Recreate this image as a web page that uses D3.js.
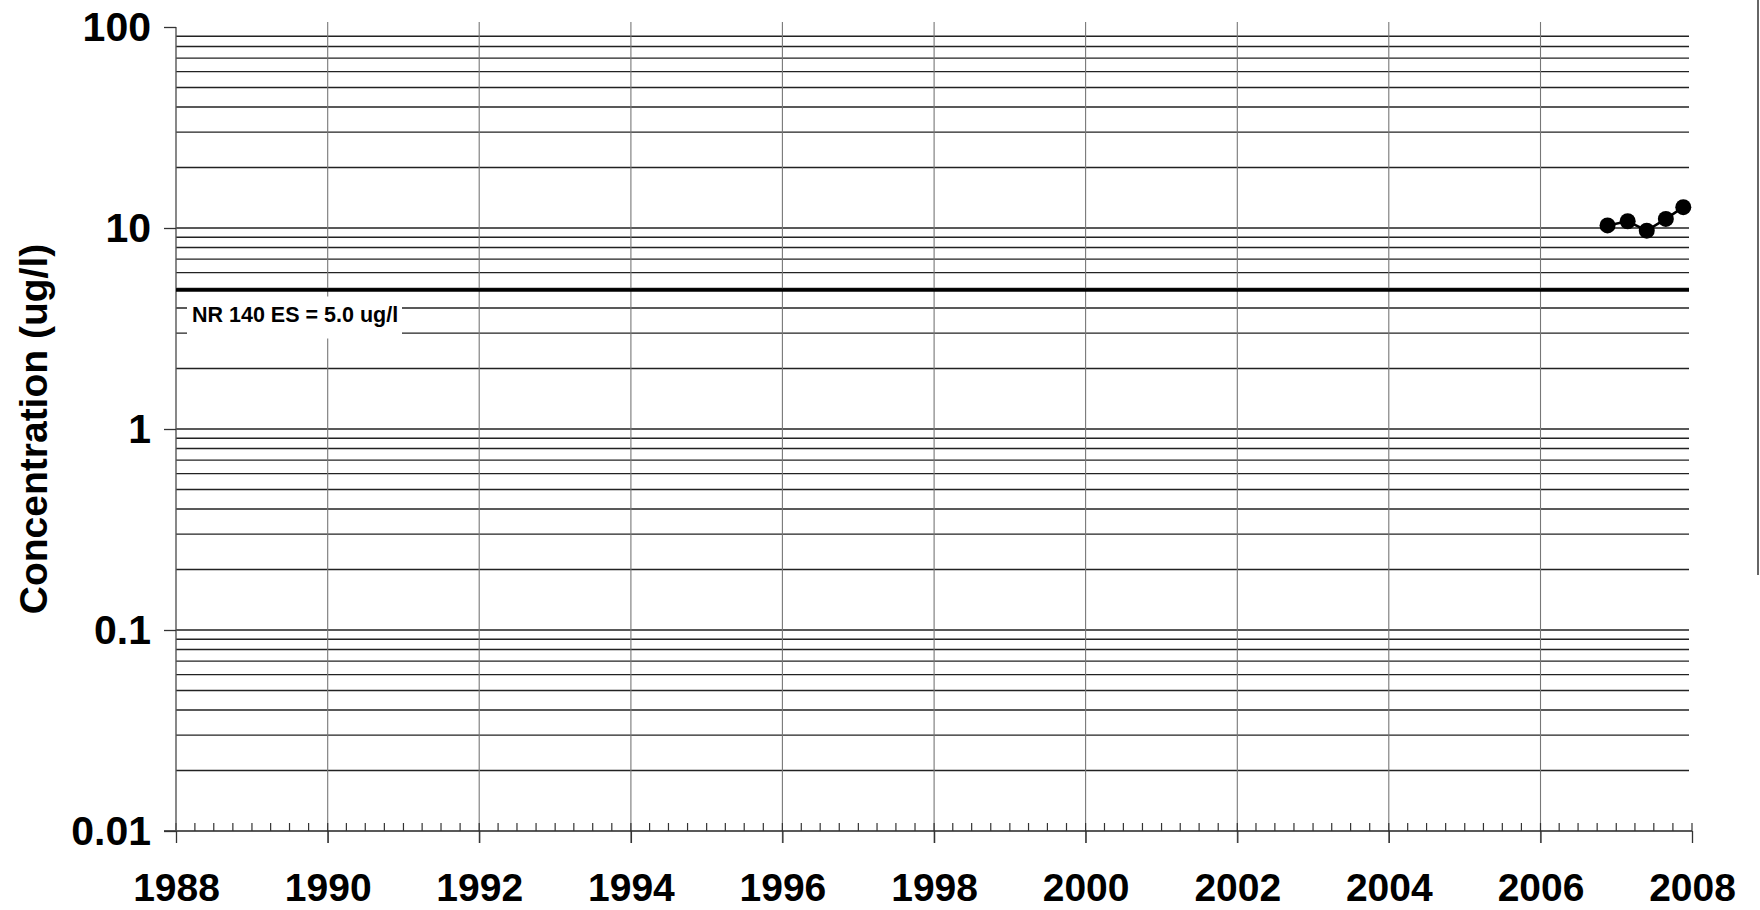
<!DOCTYPE html>
<html>
<head>
<meta charset="utf-8">
<script src="https://cdn.jsdelivr.net/npm/d3@7"></script>
<style>
  html, body { margin: 0; padding: 0; background: #fff; }
  svg { display: block; font-family: "Liberation Sans", Arial, sans-serif; }
</style>
</head>
<body>
<svg id="chart" width="1760" height="910"></svg>
<script>
// ---- data ----
const sampleDates = ["2006-11-20", "2007-02-25", "2007-05-28", "2007-08-28", "2007-11-20"];
const concentrations = [10.3, 10.8, 9.7, 11.1, 12.7];
const yTickValues = [0.01, 0.1, 1, 10, 100];
const yTickLabels = ["0.01", "0.1", "1", "10", "100"];
const xTickYears = [1988, 1990, 1992, 1994, 1996, 1998, 2000, 2002, 2004, 2006, 2008];
const standardValue = 5.0;
const standardLabel = "NR 140 ES = 5.0 ug/l";
const yAxisTitle = "Concentration (ug/l)";

// ---- layout ----
const svg = d3.select("#chart");
const parse = d3.timeParse("%Y-%m-%d");
const x = d3.scaleTime()
  .domain([new Date(1988, 0, 1), new Date(2008, 0, 1)])
  .range([176, 1692]);
const y = d3.scaleLog().domain([0.01, 100]).range([831, 27]);
const gridRight = 1689;

// horizontal gridlines (2..9 and decades, except the axis and the top)
const hVals = [];
[0.01, 0.1, 1, 10].forEach(d => {
  for (let k = 1; k <= 9; k++) {
    const v = +(k * d).toPrecision(3);
    if (v > 0.01) hVals.push(v);
  }
});
svg.append("g").selectAll("line").data(hVals).join("line")
  .attr("x1", x.range()[0]).attr("x2", gridRight)
  .attr("y1", d => y(d)).attr("y2", d => y(d))
  .attr("stroke", "#222").attr("stroke-width", 1.4);

// vertical gridlines every 2 years
svg.append("g").selectAll("line").data(xTickYears.slice(1, -1)).join("line")
  .attr("x1", d => x(new Date(d, 0, 1))).attr("x2", d => x(new Date(d, 0, 1)))
  .attr("y1", 22).attr("y2", 843)
  .attr("stroke", "#777").attr("stroke-width", 1.1);

// x axis: quarterly minor ticks upward, major ticks downward
const xAxisG = svg.append("g").attr("transform", `translate(0,${y(0.01)})`);
xAxisG.append("line")
  .attr("x1", 164).attr("x2", x.range()[1])
  .attr("stroke", "#222").attr("stroke-width", 1.4);
const quarters = d3.timeMonth.every(3).range(new Date(1988, 0, 1), new Date(2008, 0, 2));
xAxisG.selectAll("line.minor").data(quarters).join("line").attr("class", "minor")
  .attr("x1", d => x(d)).attr("x2", d => x(d))
  .attr("y1", 0).attr("y2", -8)
  .attr("stroke", "#333").attr("stroke-width", 1.2);
const xAxis = d3.axisBottom(x)
  .tickValues(xTickYears.map(yr => new Date(yr, 0, 1)))
  .tickFormat(d3.timeFormat("%Y"))
  .tickSize(12).tickPadding(30);
const xg = xAxisG.append("g").call(xAxis);
xg.select(".domain").remove();
xg.selectAll(".tick line").attr("stroke", "#333").attr("stroke-width", 1.3);
xg.selectAll(".tick text")
  .attr("font-size", 39).attr("font-weight", "bold").attr("fill", "#000");

// y axis
const yAxis = d3.axisLeft(y)
  .tickValues(yTickValues)
  .tickFormat((d, i) => yTickLabels[i])
  .tickSize(12).tickPadding(13);
const yg = svg.append("g").attr("transform", `translate(${x.range()[0]},0)`).call(yAxis);
yg.select(".domain").attr("d", `M0,${y(100)}V${y(0.01)}`).attr("stroke", "#555").attr("stroke-width", 1.4);
yg.selectAll(".tick line").attr("stroke", "#333").attr("stroke-width", 1.3);
yg.selectAll(".tick text")
  .attr("font-size", 41).attr("font-weight", "bold").attr("fill", "#000");

// y axis title
svg.append("text")
  .attr("transform", `translate(47,${(y(100) + y(0.01)) / 2}) rotate(-90)`)
  .attr("text-anchor", "middle")
  .attr("font-size", 39).attr("font-weight", "bold").attr("fill", "#000")
  .text(yAxisTitle);

// standard line
svg.append("line")
  .attr("x1", x.range()[0]).attr("x2", gridRight)
  .attr("y1", y(standardValue) + 1.5).attr("y2", y(standardValue) + 1.5)
  .attr("stroke", "#000").attr("stroke-width", 3.5);

// standard label with white box
const labelG = svg.append("g");
labelG.append("rect")
  .attr("x", 187).attr("y", y(standardValue) + 8)
  .attr("width", 215).attr("height", 42)
  .attr("fill", "#fff");
labelG.append("text")
  .attr("x", 192).attr("y", y(standardValue) + 33)
  .attr("font-size", 21.5).attr("font-weight", "bold").attr("fill", "#000")
  .text(standardLabel);

// data series
const pts = sampleDates.map((d, i) => ({ date: parse(d), value: concentrations[i] }));
svg.append("path").datum(pts)
  .attr("fill", "none").attr("stroke", "#000").attr("stroke-width", 2.5)
  .attr("d", d3.line().x(d => x(d.date)).y(d => y(d.value)));
svg.append("g").selectAll("circle").data(pts).join("circle")
  .attr("cx", d => x(d.date)).attr("cy", d => y(d.value))
  .attr("r", 8).attr("fill", "#000");

// scanned page edge on the right
svg.append("line")
  .attr("x1", 1758).attr("x2", 1758).attr("y1", 0).attr("y2", 575)
  .attr("stroke", "#666").attr("stroke-width", 2);
</script>
</body>
</html>
